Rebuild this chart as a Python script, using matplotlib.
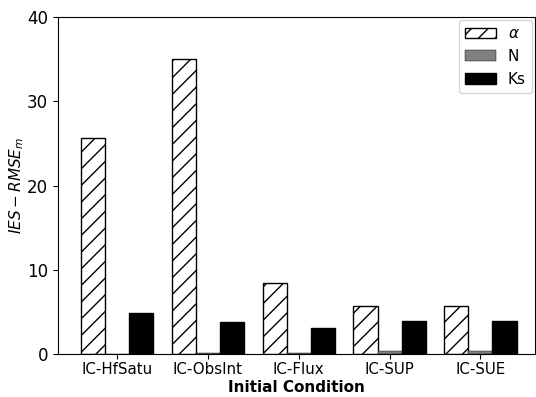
import numpy as np
import matplotlib
matplotlib.use("Agg")
from matplotlib import pyplot as plt

conditions = ["IC-HfSatu", "IC-ObsInt", "IC-Flux", "IC-SUP", "IC-SUE"]
alpha_vals = [25.6, 35.0, 8.4, 5.7, 5.7]
n_vals = [0.05, 0.1, 0.15, 0.35, 0.35]
ks_vals = [4.9, 3.8, 3.1, 3.9, 3.9]

fig = plt.figure(figsize=(5.36, 3.97), dpi=100)
ax = fig.add_axes([0.108, 0.108, 0.89, 0.849])

x = np.arange(len(conditions))
w = 0.265
ax.bar(x - w, alpha_vals, w, color="white", edgecolor="black", hatch="//", label=r"$\alpha$")
ax.bar(x, n_vals, w, color="grey", edgecolor="black", linewidth=0.3, label="N")
ax.bar(x + w, ks_vals, w, color="black", edgecolor="black", label="Ks")

ax.set_xticks(x)
ax.set_xticklabels(conditions, fontsize=10.8)
ax.set_ylim(0, 40)
ax.set_yticks([0, 10, 20, 30, 40])
ax.tick_params(axis="y", labelsize=12)
ax.tick_params(axis="x", pad=2.5)
ax.set_xlim(-0.65, 4.6)
ax.set_xlabel("Initial Condition", fontsize=11, fontweight="bold", labelpad=2)
ax.set_ylabel(r"$IES-RMSE_m$", fontsize=11, labelpad=1)
ax.legend(loc="upper right", fontsize=11, borderaxespad=0.2, handlelength=2.0)

plt.savefig("out.png", dpi=100)
